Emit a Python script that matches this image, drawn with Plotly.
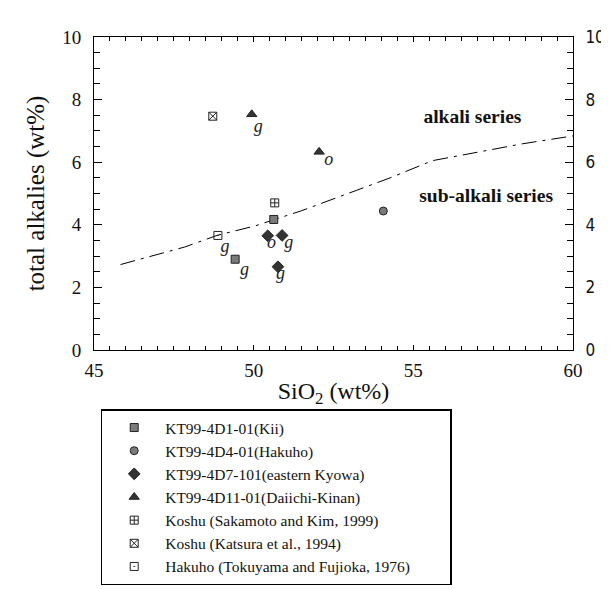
import plotly.graph_objects as go

# ---- data ----
kii_x = [50.63, 49.42]
kii_y = [4.17, 2.90]
hakuho_x = [54.06]
hakuho_y = [4.44]
kyowa_x = [50.44, 50.89, 50.76]
kyowa_y = [3.65, 3.66, 2.66]
daiichi_x = [49.94, 52.05]
daiichi_y = [7.53, 6.33]
sakamoto_x = [50.66]
sakamoto_y = [4.70]
katsura_x = [48.72]
katsura_y = [7.47]
tokuyama_x = [48.88]
tokuyama_y = [3.66]

boundary_x = [45.83, 46.8, 47.84, 48.85, 50.06, 51.5, 52.98, 54.3, 55.6, 57.2, 58.43, 60.0]
boundary_y = [2.73, 3.0, 3.29, 3.66, 3.97, 4.45, 5.0, 5.51, 6.05, 6.35, 6.59, 6.84]

tag_x = [50.14, 52.35, 49.10, 50.56, 51.10, 49.71, 50.84]
tag_y = [7.11, 6.07, 3.27, 3.40, 3.40, 2.54, 2.41]
tag_text = ["g", "o", "g", "o", "g", "g", "g"]

region_x = [56.85, 57.28]
region_y = [7.41, 4.89]
region_text = ["alkali series", "sub-alkali series"]

x_range = [45, 60]
y_range = [0, 10]
x_ticks = [45, 50, 55, 60]
y_ticks = [0, 2, 4, 6, 8, 10]

SERIF = "Liberation Serif, Times New Roman, Times, serif"
fig = go.Figure()

fig.add_trace(go.Scatter(x=boundary_x, y=boundary_y, mode="lines",
                         line=dict(color="black", width=1, dash="longdashdot"),
                         showlegend=False, hoverinfo="skip"))

def add(name, xs, ys, symbol, fill, size=8, lw=1):
    fig.add_trace(go.Scatter(x=xs, y=ys, mode="markers", name=name,
                             marker=dict(symbol=symbol, size=size, color=fill,
                                         line=dict(color="#222", width=lw))))

add("KT99-4D1-01(Kii)", kii_x, kii_y, "square", "#7a7a7a")
add("KT99-4D4-01(Hakuho)", hakuho_x, hakuho_y, "circle", "#7a7a7a")
add("KT99-4D7-101(eastern Kyowa)", kyowa_x, kyowa_y, "diamond", "#333333", size=9)
add("KT99-4D11-01(Daiichi-Kinan)", daiichi_x, daiichi_y, "triangle-up", "#333333", size=9)
add("Koshu (Sakamoto and Kim, 1999)", sakamoto_x, sakamoto_y, "square-cross-open", "#222")
add("Koshu (Katsura et al., 1994)", katsura_x, katsura_y, "square-x-open", "#222")
add("Hakuho (Tokuyama and Fujioka, 1976)" + "\u00a0" * 9, tokuyama_x, tokuyama_y,
    "square-open-dot", "#222")

fig.add_trace(go.Scatter(x=tag_x, y=tag_y, mode="text",
                         text=["<i>%s</i>" % t for t in tag_text],
                         textfont=dict(family=SERIF, size=18, color="#222"),
                         showlegend=False, hoverinfo="skip"))

fig.add_trace(go.Scatter(x=region_x, y=region_y, mode="text",
                         text=["<b>%s</b>" % t for t in region_text],
                         textfont=dict(family=SERIF, size=19.5, color="#111"),
                         showlegend=False, hoverinfo="skip"))

# invisible trace for right axis
fig.add_trace(go.Scatter(x=[x_range[0]], y=[y_range[0]], yaxis="y2", mode="markers",
                         marker=dict(opacity=0), showlegend=False, hoverinfo="skip"))

base = dict(showline=True, linecolor="black", linewidth=1, showgrid=False,
            zeroline=False, ticks="inside", tickcolor="black")
x_ticks_style = dict(ticklen=5, minor=dict(ticks="inside", ticklen=4, dtick=0.5, tickcolor="black"))
y_ticks_style = dict(ticklen=8, minor=dict(ticks="inside", ticklen=6, dtick=0.5, tickcolor="black"))

fig.update_layout(
    width=609, height=589,
    margin=dict(l=86, r=27, t=29, b=232),
    plot_bgcolor="white", paper_bgcolor="white",
    font=dict(family=SERIF, color="#111"),
    xaxis=dict(range=x_range, tickvals=x_ticks, mirror="ticks",
               tickfont=dict(family=SERIF, size=19), ticklabelstandoff=3,
               title=dict(text="SiO<sub>2</sub> (wt%)", font=dict(family=SERIF, size=24), standoff=2),
               **base, **x_ticks_style),
    yaxis=dict(range=y_range, tickvals=y_ticks,
               tickfont=dict(family=SERIF, size=19), ticklabelstandoff=8,
               title=dict(text="total alkalies (wt%)", font=dict(family=SERIF, size=25), standoff=10),
               **base, **y_ticks_style),
    yaxis2=dict(range=y_range, tickvals=y_ticks, overlaying="y", side="right",
                tickfont=dict(family="DejaVu Sans Condensed, DejaVu Sans", size=17),
                ticklabelstandoff=8,
                **base, **y_ticks_style),
    legend=dict(x=0.014, y=-0.19, xanchor="left", yanchor="top",
                font=dict(family=SERIF, size=15.5, color="#111"),
                bordercolor="black", borderwidth=1.5, bgcolor="white",
                indentation=1, itemwidth=52, tracegroupgap=0),
)

fig.write_html("out.html")
